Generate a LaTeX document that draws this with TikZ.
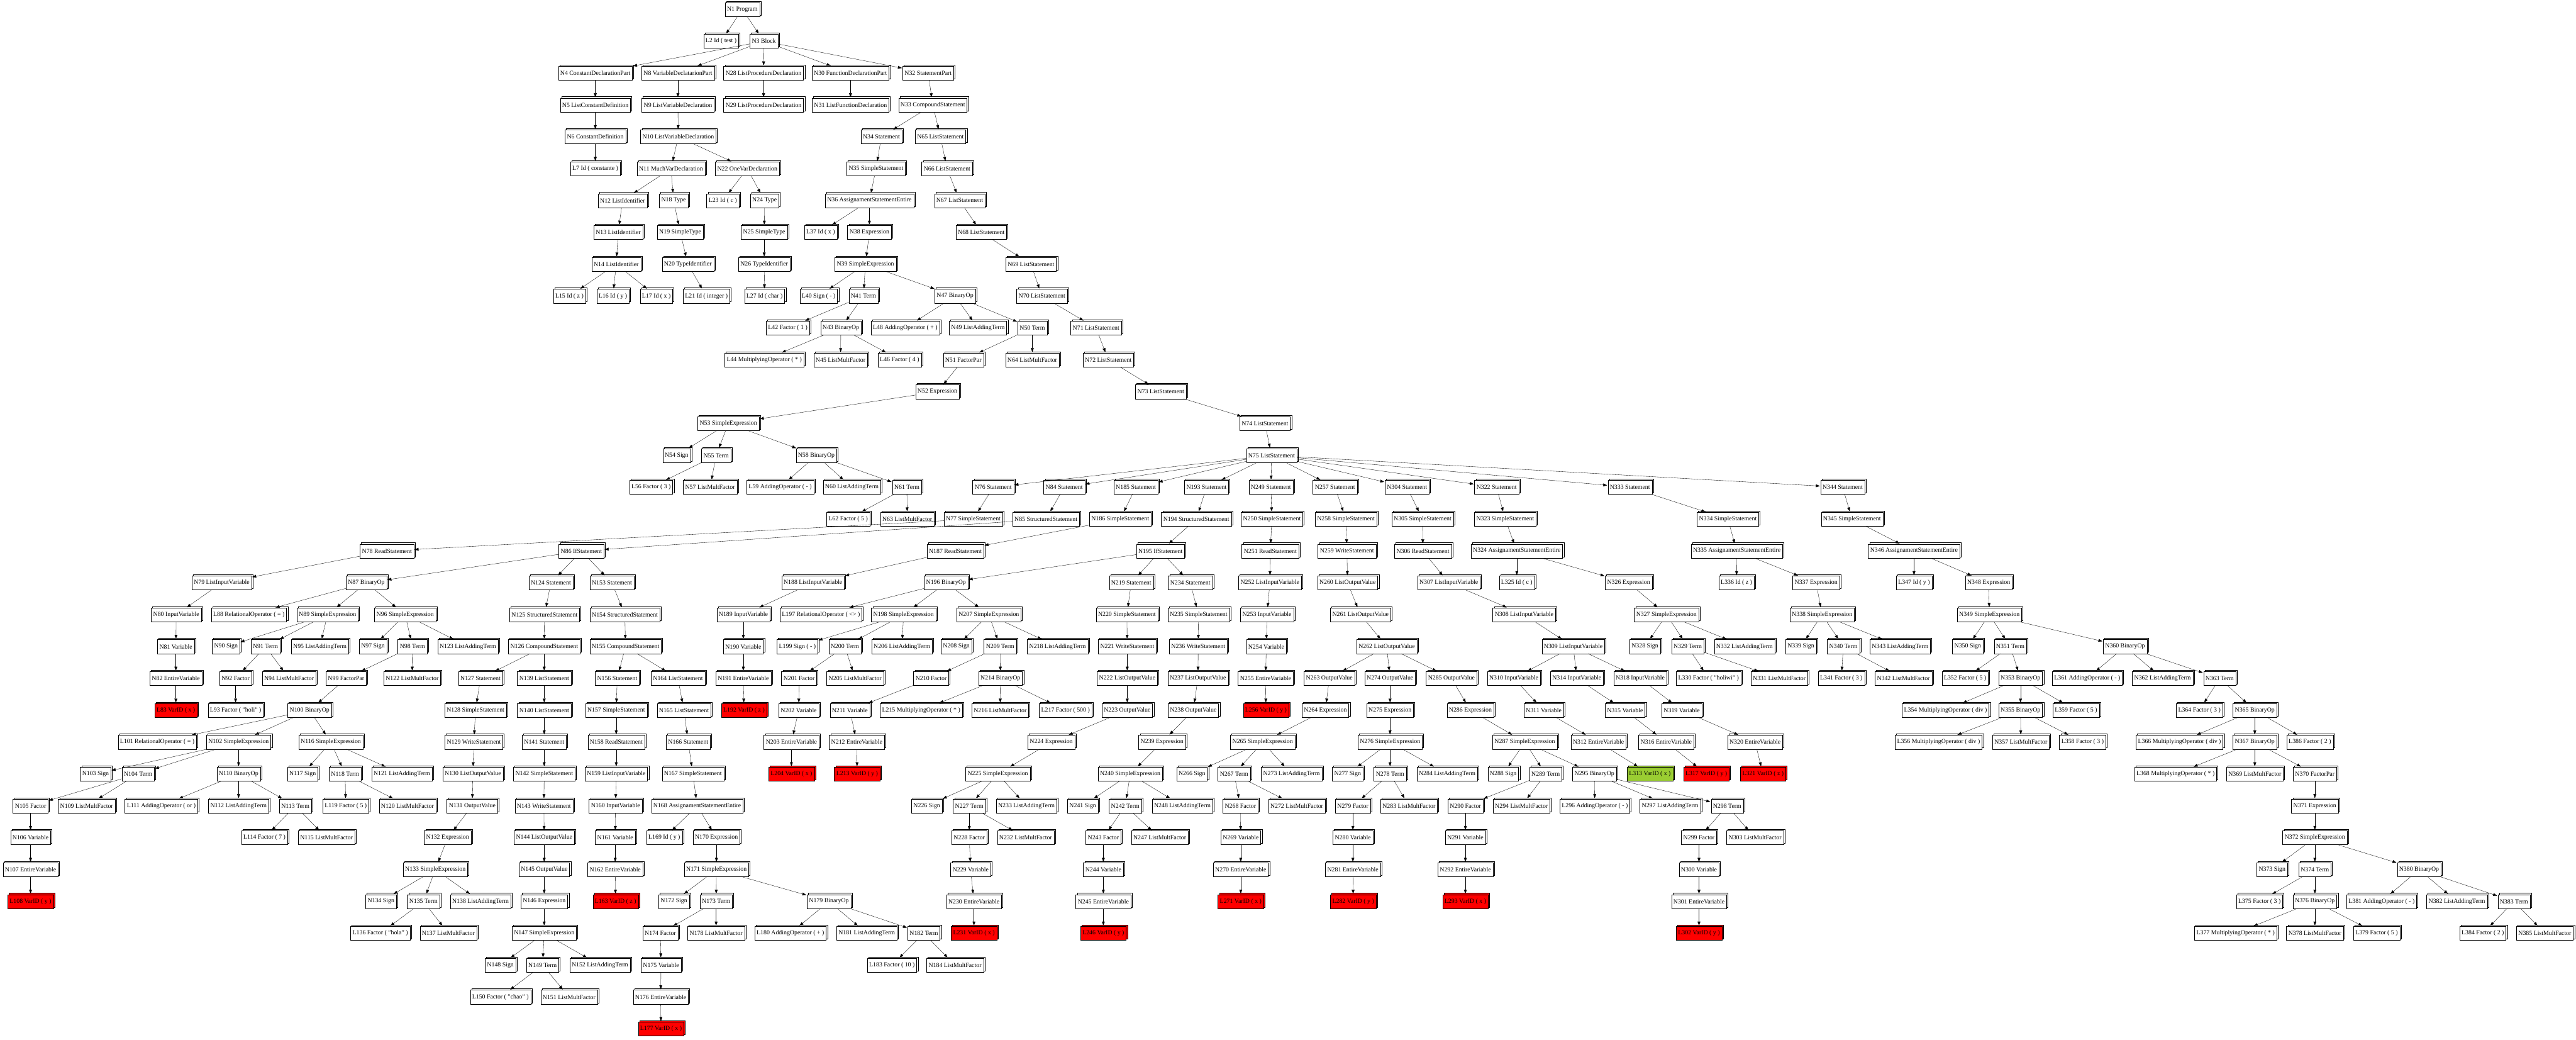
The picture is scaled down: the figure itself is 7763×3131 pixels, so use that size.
\documentclass[tikz,border=0pt]{standalone}
\usepackage{fontspec}
\setmainfont{Liberation Serif}
\usetikzlibrary{arrows.meta,shadows}
\definecolor{lgreen}{HTML}{9ACD32}
\tikzset{
  bx/.style={draw=black, line width=0.45pt, fill=#1, rectangle, minimum height=31.5pt, minimum width=40pt,
    inner xsep=4.5pt, inner ysep=0pt, font=\fontsize{14pt}{16pt}\selectfont,
    copy shadow={shadow xshift=3pt, shadow yshift=3pt, draw=black, fill=#1, line width=0.45pt}},
  bx/.default=white,
  conn/.style={-{Triangle[length=9pt,width=6.5pt]}, line width=0.5pt, shorten >=1.5pt}
}
\newcommand\mkn[5][white]{\node[bx=#1] (#2) at (#3,{28.3+95.97*#4}) {#5};}
\begin{document}
\begin{tikzpicture}[x=0.75pt,y=-0.75pt]
\useasboundingbox (0,0) rectangle (7763,3131);
% level 0-14
\mkn{N1}{2237}{0}{N1 Program}
\mkn{L2}{2173}{1}{L2 Id ( test )}
\mkn{N3}{2302}{1}{N3 Block}
\mkn{N4}{1794}{2}{N4 ConstantDeclarationPart}
\mkn{N8}{2043}{2}{N8 VariableDeclatarionPart}
\mkn{N28}{2301}{2}{N28 ListProcedureDeclaration}
\mkn{N30}{2563}{2}{N30 FunctionDeclarationPart}
\mkn{N32}{2797}{2}{N32 StatementPart}
\mkn{N5}{1794}{3}{N5 ListConstantDefinition}
\mkn{N9}{2043}{3}{N9 ListVariableDeclaration}
\mkn{N29}{2301}{3}{N29 ListProcedureDeclaration}
\mkn{N31}{2563}{3}{N31 ListFunctionDeclaration}
\mkn{N33}{2811}{3}{N33 CompoundStatement}
\mkn{N6}{1794}{4}{N6 ConstantDefinition}
\mkn{N10}{2044}{4}{N10 ListVariableDeclaration}
\mkn{N34}{2656}{4}{N34 Statement}
\mkn{N65}{2834}{4}{N65 ListStatement}
\mkn{L7}{1794}{5}{L7 Id ( constante )}
\mkn{N11}{2022}{5}{N11 MuchVarDeclaration}
\mkn{N22}{2252}{5}{N22 OneVarDeclaration}
\mkn{N35}{2640}{5}{N35 SimpleStatement}
\mkn{N66}{2854}{5}{N66 ListStatement}
\mkn{N12}{1876}{6}{N12 ListIdentifier}
\mkn{N18}{2030}{6}{N18 Type}
\mkn{L23}{2178}{6}{L23 Id ( c )}
\mkn{N24}{2304}{6}{N24 Type}
\mkn{N36}{2620}{6}{N36 AssignamentStatementEntire}
\mkn{N67}{2892}{6}{N67 ListStatement}
\mkn{N13}{1863}{7}{N13 ListIdentifier}
\mkn{N19}{2050}{7}{N19 SimpleType}
\mkn{N25}{2303}{7}{N25 SimpleType}
\mkn{L37}{2473}{7}{L37 Id ( x )}
\mkn{N38}{2620}{7}{N38 Expression}
\mkn{N68}{2957}{7}{N68 ListStatement}
\mkn{N14}{1857}{8}{N14 ListIdentifier}
\mkn{N20}{2073}{8}{N20 TypeIdentifier}
\mkn{N26}{2303}{8}{N26 TypeIdentifier}
\mkn{N39}{2608}{8}{N39 SimpleExpression}
\mkn{N69}{3107}{8}{N69 ListStatement}
\mkn{L15}{1716}{9}{L15 Id ( z )}
\mkn{L16}{1847}{9}{L16 Id ( y )}
\mkn{L17}{1978}{9}{L17 Id ( x )}
\mkn{L21}{2129}{9}{L21 Id ( integer )}
\mkn{L27}{2304}{9}{L27 Id ( char )}
\mkn{L40}{2467}{9}{L40 Sign ( - )}
\mkn{N41}{2602}{9}{N41 Term}
\mkn{N47}{2878}{9}{N47 BinaryOp}
\mkn{N70}{3140}{9}{N70 ListStatement}
\mkn{L42}{2374}{10}{L42 Factor ( 1 )}
\mkn{N43}{2534}{10}{N43 BinaryOp}
\mkn{L48}{2728}{10}{L48 AddingOperator ( + )}
\mkn{N49}{2947}{10}{N49 ListAddingTerm}
\mkn{N50}{3111}{10}{N50 Term}
\mkn{N71}{3303}{10}{N71 ListStatement}
\mkn{L44}{2303}{11}{L44 MultiplyingOperator ( * )}
\mkn{N45}{2533}{11}{N45 ListMultFactor}
\mkn{L46}{2711}{11}{L46 Factor ( 4 )}
\mkn{N51}{2903}{11}{N51 FactorPar}
\mkn{N64}{3111}{11}{N64 ListMultFactor}
\mkn{N72}{3340}{11}{N72 ListStatement}
\mkn{N52}{2825}{12}{N52 Expression}
\mkn{N73}{3498}{12}{N73 ListStatement}
\mkn{N53}{2195}{13}{N53 SimpleExpression}
\mkn{N74}{3812}{13}{N74 ListStatement}
\mkn{N54}{2039}{14}{N54 Sign}
\mkn{N55}{2158}{14}{N55 Term}
\mkn{N58}{2460}{14}{N58 BinaryOp}
\mkn{N75}{3832}{14}{N75 ListStatement}
% level 15
\mkn{L56}{1962}{15}{L56 Factor ( 3 )}
\mkn{N57}{2140}{15}{N57 ListMultFactor}
\mkn{L59}{2351}{15}{L59 AddingOperator ( - )}
\mkn{N60}{2567}{15}{N60 ListAddingTerm}
\mkn{N61}{2733}{15}{N61 Term}
\mkn{N76}{2993}{15}{N76 Statement}
\mkn{N84}{3207}{15}{N84 Statement}
\mkn{N185}{3423}{15}{N185 Statement}
\mkn{N193}{3636}{15}{N193 Statement}
\mkn{N249}{3830}{15}{N249 Statement}
\mkn{N257}{4023}{15}{N257 Statement}
\mkn{N304}{4240}{15}{N304 Statement}
\mkn{N322}{4510}{15}{N322 Statement}
\mkn{N333}{4912}{15}{N333 Statement}
\mkn{N344}{5553}{15}{N344 Statement}
% level 16
\mkn{L62}{2556}{16}{L62 Factor ( 5 )}
\mkn{N63}{2734}{16}{N63 ListMultFactor}
\mkn{N77}{2933}{16}{N77 SimpleStatement}
\mkn{N85}{3152}{16}{N85 StructuredStatement}
\mkn{N186}{3376}{16}{N186 SimpleStatement}
\mkn{N194}{3605}{16}{N194 StructuredStatement}
\mkn{N250}{3833}{16}{N250 SimpleStatement}
\mkn{N258}{4056}{16}{N258 SimpleStatement}
\mkn{N305}{4287}{16}{N305 SimpleStatement}
\mkn{N323}{4536}{16}{N323 SimpleStatement}
\mkn{N334}{5207}{16}{N334 SimpleStatement}
\mkn{N345}{5581}{16}{N345 SimpleStatement}
% level 17
\mkn{N78}{1166}{17}{N78 ReadStatement}
\mkn{N86}{1752}{17}{N86 IfStatement}
\mkn{N187}{2879}{17}{N187 ReadStatement}
\mkn{N195}{3497}{17}{N195 IfStatement}
\mkn{N251}{3828}{17}{N251 ReadStatement}
\mkn{N259}{4059}{17}{N259 WriteStatement}
\mkn{N306}{4288}{17}{N306 ReadStatement}
\mkn{N324}{4571}{17}{N324 AssignamentStatementEntire}
\mkn{N335}{5234}{17}{N335 AssignamentStatementEntire}
\mkn{N346}{5768}{17}{N346 AssignamentStatementEntire}
% level 18
\mkn{N79}{668}{18}{N79 ListInputVariable}
\mkn{N87}{1104}{18}{N87 BinaryOp}
\mkn{N124}{1660}{18}{N124 Statement}
\mkn{N153}{1844}{18}{N153 Statement}
\mkn{N188}{2450}{18}{N188 ListInputVariable}
\mkn{N196}{2851}{18}{N196 BinaryOp}
\mkn{N219}{3409}{18}{N219 Statement}
\mkn{N234}{3587}{18}{N234 Statement}
\mkn{N252}{3827}{18}{N252 ListInputVariable}
\mkn{N260}{4061}{18}{N260 ListOutputValue}
\mkn{N307}{4366}{18}{N307 ListInputVariable}
\mkn{L325}{4571}{18}{L325 Id ( c )}
\mkn{N326}{4908}{18}{N326 Expression}
\mkn{L336}{5233}{18}{L336 Id ( z )}
\mkn{N337}{5473}{18}{N337 Expression}
\mkn{L347}{5768}{18}{L347 Id ( y )}
\mkn{N348}{5993}{18}{N348 Expression}
% level 19
\mkn{N80}{531}{19}{N80 InputVariable}
\mkn{L88}{750}{19}{L88 RelationalOperator ( = )}
\mkn{N89}{987}{19}{N89 SimpleExpression}
\mkn{N96}{1221}{19}{N96 SimpleExpression}
\mkn{N125}{1641}{19}{N125 StructuredStatement}
\mkn{N154}{1883}{19}{N154 StructuredStatement}
\mkn{N189}{2240}{19}{N189 InputVariable}
\mkn{L197}{2474}{19}{L197 RelationalOperator ( <> )}
\mkn{N198}{2723}{19}{N198 SimpleExpression}
\mkn{N207}{2980}{19}{N207 SimpleExpression}
\mkn{N220}{3396}{19}{N220 SimpleStatement}
\mkn{N235}{3612}{19}{N235 SimpleStatement}
\mkn{N253}{3818}{19}{N253 InputVariable}
\mkn{N261}{4100}{19}{N261 ListOutputValue}
\mkn{N308}{4593}{19}{N308 ListInputVariable}
\mkn{N327}{5022}{19}{N327 SimpleExpression}
\mkn{N338}{5491}{19}{N338 SimpleExpression}
\mkn{N349}{5995}{19}{N349 SimpleExpression}
% level 20
\mkn{N81}{530}{20}{N81 Variable}
\mkn{N90}{681}{20}{N90 Sign}
\mkn{N91}{800}{20}{N91 Term}
\mkn{N95}{964}{20}{N95 ListAddingTerm}
\mkn{N97}{1124}{20}{N97 Sign}
\mkn{N98}{1243}{20}{N98 Term}
\mkn{N123}{1410}{20}{N123 ListAddingTerm}
\mkn{N126}{1640}{20}{N126 CompoundStatement}
\mkn{N155}{1885}{20}{N155 CompoundStatement}
\mkn{N190}{2240}{20}{N190 Variable}
\mkn{L199}{2403}{20}{L199 Sign ( - )}
\mkn{N200}{2546}{20}{N200 Term}
\mkn{N206}{2718}{20}{N206 ListAddingTerm}
\mkn{N208}{2882}{20}{N208 Sign}
\mkn{N209}{3014}{20}{N209 Term}
\mkn{N218}{3187}{20}{N218 ListAddingTerm}
\mkn{N221}{3397}{20}{N221 WriteStatement}
\mkn{N236}{3611}{20}{N236 WriteStatement}
\mkn{N254}{3816}{20}{N254 Variable}
\mkn{N262}{4179}{20}{N262 ListOutputValue}
\mkn{N309}{4741}{20}{N309 ListInputVariable}
\mkn{N328}{4957}{20}{N328 Sign}
\mkn{N329}{5086}{20}{N329 Term}
\mkn{N332}{5257}{20}{N332 ListAddingTerm}
\mkn{N339}{5427}{20}{N339 Sign}
\mkn{N340}{5555}{20}{N340 Term}
\mkn{N343}{5726}{20}{N343 ListAddingTerm}
\mkn{N350}{5930}{20}{N350 Sign}
\mkn{N351}{6058}{20}{N351 Term}
\mkn{N360}{6404}{20}{N360 BinaryOp}
% level 21
\mkn{N82}{530}{21}{N82 EntireVariable}
\mkn{N92}{710}{21}{N92 Factor}
\mkn{N94}{871}{21}{N94 ListMultFactor}
\mkn{N99}{1043}{21}{N99 FactorPar}
\mkn{N122}{1242}{21}{N122 ListMultFactor}
\mkn{N127}{1448}{21}{N127 Statement}
\mkn{N139}{1640}{21}{N139 ListStatement}
\mkn{N156}{1860}{21}{N156 Statement}
\mkn{N164}{2043}{21}{N164 ListStatement}
\mkn{N191}{2240}{21}{N191 EntireVariable}
\mkn{N201}{2408}{21}{N201 Factor}
\mkn{N205}{2577}{21}{N205 ListMultFactor}
\mkn{N210}{2806}{21}{N210 Factor}
\mkn{N214}{3015}{21}{N214 BinaryOp}
\mkn{N222}{3397}{21}{N222 ListOutputValue}
\mkn{N237}{3610}{21}{N237 ListOutputValue}
\mkn{N255}{3814}{21}{N255 EntireVariable}
\mkn{N263}{4006}{21}{N263 OutputValue}
\mkn{N274}{4189}{21}{N274 OutputValue}
\mkn{N285}{4374}{21}{N285 OutputValue}
\mkn{N310}{4562}{21}{N310 InputVariable}
\mkn{N314}{4752}{21}{N314 InputVariable}
\mkn{N318}{4943}{21}{N318 InputVariable}
\mkn{L330}{5149}{21}{L330 Factor ( "holiwi" )}
\mkn{N331}{5362}{21}{N331 ListMultFactor}
\mkn{L341}{5549}{21}{L341 Factor ( 3 )}
\mkn{N342}{5736}{21}{N342 ListMultFactor}
\mkn{L352}{5922}{21}{L352 Factor ( 5 )}
\mkn{N353}{6089}{21}{N353 BinaryOp}
\mkn{L361}{6290}{21}{L361 AddingOperator ( - )}
\mkn{N362}{6517}{21}{N362 ListAddingTerm}
\mkn{N363}{6689}{21}{N363 Term}
% level 22
\mkn[red]{L83}{530}{22}{L83 VarID ( x )}
\mkn{L93}{710}{22}{L93 Factor ( "holi" )}
\mkn{N100}{933}{22}{N100 BinaryOp}
\mkn{N128}{1433}{22}{N128 SimpleStatement}
\mkn{N140}{1640}{22}{N140 ListStatement}
\mkn{N157}{1857}{22}{N157 SimpleStatement}
\mkn{N165}{2061}{22}{N165 ListStatement}
\mkn[red]{L192}{2242}{22}{L192 VarID ( z )}
\mkn{N202}{2407}{22}{N202 Variable}
\mkn{N211}{2561}{22}{N211 Variable}
\mkn{L215}{2776}{22}{L215 MultiplyingOperator ( * )}
\mkn{N216}{3014}{22}{N216 ListMultFactor}
\mkn{L217}{3211}{22}{L217 Factor ( 500 )}
\mkn{N223}{3397}{22}{N223 OutputValue}
\mkn{N238}{3596}{22}{N238 OutputValue}
\mkn[red]{L256}{3815}{22}{L256 VarID ( y )}
\mkn{N264}{3994}{22}{N264 Expression}
\mkn{N275}{4189}{22}{N275 Expression}
\mkn{N286}{4431}{22}{N286 Expression}
\mkn{N311}{4652}{22}{N311 Variable}
\mkn{N315}{4897}{22}{N315 Variable}
\mkn{N319}{5068}{22}{N319 Variable}
\mkn{L354}{5863}{22}{L354 MultiplyingOperator ( div )}
\mkn{N355}{6089}{22}{N355 BinaryOp}
\mkn{L359}{6256}{22}{L359 Factor ( 5 )}
\mkn{L364}{6628}{22}{L364 Factor ( 3 )}
\mkn{N365}{6795}{22}{N365 BinaryOp}
% level 23
\mkn{L101}{474}{23}{L101 RelationalOperator ( = )}
\mkn{N102}{719}{23}{N102 SimpleExpression}
\mkn{N116}{997}{23}{N116 SimpleExpression}
\mkn{N129}{1428}{23}{N129 WriteStatement}
\mkn{N141}{1640}{23}{N141 Statement}
\mkn{N158}{1857}{23}{N158 ReadStatement}
\mkn{N166}{2074}{23}{N166 Statement}
\mkn{N203}{2385}{23}{N203 EntireVariable}
\mkn{N212}{2582}{23}{N212 EntireVariable}
\mkn{N224}{3168}{23}{N224 Expression}
\mkn{N239}{3502}{23}{N239 Expression}
\mkn{N265}{3805}{23}{N265 SimpleExpression}
\mkn{N276}{4189}{23}{N276 SimpleExpression}
\mkn{N287}{4595}{23}{N287 SimpleExpression}
\mkn{N312}{4817}{23}{N312 EntireVariable}
\mkn{N316}{5021}{23}{N316 EntireVariable}
\mkn{N320}{5289}{23}{N320 EntireVariable}
\mkn{L356}{5842}{23}{L356 MultiplyingOperator ( div )}
\mkn{N357}{6090}{23}{N357 ListMultFactor}
\mkn{L358}{6276}{23}{L358 Factor ( 3 )}
\mkn{L366}{6568}{23}{L366 MultiplyingOperator ( div )}
\mkn{N367}{6795}{23}{N367 BinaryOp}
\mkn{L386}{6961}{23}{L386 Factor ( 2 )}
% level 24
\mkn{N103}{288}{24}{N103 Sign}
\mkn{N104}{416}{24}{N104 Term}
\mkn{N110}{719}{24}{N110 BinaryOp}
\mkn{N117}{912}{24}{N117 Sign}
\mkn{N118}{1040}{24}{N118 Term}
\mkn{N121}{1211}{24}{N121 ListAddingTerm}
\mkn{N130}{1425}{24}{N130 ListOutputValue}
\mkn{N142}{1640}{24}{N142 SimpleStatement}
\mkn{N159}{1857}{24}{N159 ListInputVariable}
\mkn{N167}{2088}{24}{N167 SimpleStatement}
\mkn[red]{L204}{2385}{24}{L204 VarID ( x )}
\mkn[red]{L213}{2583}{24}{L213 VarID ( y )}
\mkn{N225}{3007}{24}{N225 SimpleExpression}
\mkn{N240}{3406}{24}{N240 SimpleExpression}
\mkn{N266}{3592}{24}{N266 Sign}
\mkn{N267}{3719}{24}{N267 Term}
\mkn{N273}{3892}{24}{N273 ListAddingTerm}
\mkn{N277}{4061}{24}{N277 Sign}
\mkn{N278}{4189}{24}{N278 Term}
\mkn{N284}{4361}{24}{N284 ListAddingTerm}
\mkn{N288}{4530}{24}{N288 Sign}
\mkn{N289}{4658}{24}{N289 Term}
\mkn{N295}{4805}{24}{N295 BinaryOp}
\mkn[lgreen]{L313}{4972}{24}{L313 VarID ( x )}
\mkn[red]{L317}{5142}{24}{L317 VarID ( y )}
\mkn[red]{L321}{5313}{24}{L321 VarID ( z )}
\mkn{L368}{6556}{24}{L368 MultiplyingOperator ( * )}
\mkn{N369}{6795}{24}{N369 ListMultFactor}
\mkn{N370}{6976}{24}{N370 FactorPar}
% level 25
\mkn{N105}{92}{25}{N105 Factor}
\mkn{N109}{261}{25}{N109 ListMultFactor}
\mkn{L111}{486}{25}{L111 AddingOperator ( or )}
\mkn{N112}{719}{25}{N112 ListAddingTerm}
\mkn{N113}{890}{25}{N113 Term}
\mkn{L119}{1042}{25}{L119 Factor ( 5 )}
\mkn{N120}{1228}{25}{N120 ListMultFactor}
\mkn{N131}{1423}{25}{N131 OutputValue}
\mkn{N143}{1639}{25}{N143 WriteStatement}
\mkn{N160}{1855}{25}{N160 InputVariable}
\mkn{N168}{2101}{25}{N168 AssignamentStatementEntire}
\mkn{N226}{2793}{25}{N226 Sign}
\mkn{N227}{2921}{25}{N227 Term}
\mkn{N233}{3093}{25}{N233 ListAddingTerm}
\mkn{N241}{3263}{25}{N241 Sign}
\mkn{N242}{3391}{25}{N242 Term}
\mkn{N248}{3563}{25}{N248 ListAddingTerm}
\mkn{N268}{3738}{25}{N268 Factor}
\mkn{N272}{3908}{25}{N272 ListMultFactor}
\mkn{N279}{4077}{25}{N279 Factor}
\mkn{N283}{4246}{25}{N283 ListMultFactor}
\mkn{N290}{4416}{25}{N290 Factor}
\mkn{N294}{4585}{25}{N294 ListMultFactor}
\mkn{L296}{4806}{25}{L296 AddingOperator ( - )}
\mkn{N297}{5033}{25}{N297 ListAddingTerm}
\mkn{N298}{5205}{25}{N298 Term}
\mkn{N371}{6976}{25}{N371 Expression}
% level 26
\mkn{N106}{92}{26}{N106 Variable}
\mkn{L114}{797}{26}{L114 Factor ( 7 )}
\mkn{N115}{984}{26}{N115 ListMultFactor}
\mkn{N132}{1349}{26}{N132 Expression}
\mkn{N144}{1640}{26}{N144 ListOutputValue}
\mkn{N161}{1854}{26}{N161 Variable}
\mkn{L169}{2002}{26}{L169 Id ( y )}
\mkn{N170}{2159}{26}{N170 Expression}
\mkn{N228}{2921}{26}{N228 Factor}
\mkn{N232}{3091}{26}{N232 ListMultFactor}
\mkn{N243}{3325}{26}{N243 Factor}
\mkn{N247}{3495}{26}{N247 ListMultFactor}
\mkn{N269}{3739}{26}{N269 Variable}
\mkn{N280}{4077}{26}{N280 Variable}
\mkn{N291}{4416}{26}{N291 Variable}
\mkn{N299}{5120}{26}{N299 Factor}
\mkn{N303}{5289}{26}{N303 ListMultFactor}
\mkn{N372}{6976}{26}{N372 SimpleExpression}
% level 27
\mkn{N107}{92}{27}{N107 EntireVariable}
\mkn{N133}{1312}{27}{N133 SimpleExpression}
\mkn{N145}{1640}{27}{N145 OutputValue}
\mkn{N162}{1854}{27}{N162 EntireVariable}
\mkn{N171}{2159}{27}{N171 SimpleExpression}
\mkn{N229}{2925}{27}{N229 Variable}
\mkn{N244}{3325}{27}{N244 Variable}
\mkn{N270}{3739}{27}{N270 EntireVariable}
\mkn{N281}{4077}{27}{N281 EntireVariable}
\mkn{N292}{4416}{27}{N292 EntireVariable}
\mkn{N300}{5120}{27}{N300 Variable}
\mkn{N373}{6847}{27}{N373 Sign}
\mkn{N374}{6976}{27}{N374 Term}
\mkn{N380}{7290}{27}{N380 BinaryOp}
% level 28
\mkn[red]{L108}{92}{28}{L108 VarID ( y )}
\mkn{N134}{1148}{28}{N134 Sign}
\mkn{N135}{1276}{28}{N135 Term}
\mkn{N138}{1448}{28}{N138 ListAddingTerm}
\mkn{N146}{1640}{28}{N146 Expression}
\mkn[red]{L163}{1855}{28}{L163 VarID ( z )}
\mkn{N172}{2031}{28}{N172 Sign}
\mkn{N173}{2158}{28}{N173 Term}
\mkn{N179}{2498}{28}{N179 BinaryOp}
\mkn{N230}{2935}{28}{N230 EntireVariable}
\mkn{N245}{3325}{28}{N245 EntireVariable}
\mkn[red]{L271}{3739}{28}{L271 VarID ( x )}
\mkn[red]{L282}{4078}{28}{L282 VarID ( y )}
\mkn[red]{L293}{4416}{28}{L293 VarID ( x )}
\mkn{N301}{5120}{28}{N301 EntireVariable}
\mkn{L375}{6809}{28}{L375 Factor ( 3 )}
\mkn{N376}{6976}{28}{N376 BinaryOp}
\mkn{L381}{7177}{28}{L381 AddingOperator ( - )}
\mkn{N382}{7404}{28}{N382 ListAddingTerm}
\mkn{N383}{7576}{28}{N383 Term}
% level 29
\mkn{L136}{1146}{29}{L136 Factor ( "hola" )}
\mkn{N137}{1351}{29}{N137 ListMultFactor}
\mkn{N147}{1640}{29}{N147 SimpleExpression}
\mkn{N174}{1990}{29}{N174 Factor}
\mkn{N178}{2158}{29}{N178 ListMultFactor}
\mkn{L180}{2382}{29}{L180 AddingOperator ( + )}
\mkn{N181}{2612}{29}{N181 ListAddingTerm}
\mkn{N182}{2784}{29}{N182 Term}
\mkn[red]{L231}{2935}{29}{L231 VarID ( x )}
\mkn[red]{L246}{3325}{29}{L246 VarID ( y )}
\mkn[red]{L302}{5120}{29}{L302 VarID ( y )}
\mkn{L377}{6737}{29}{L377 MultiplyingOperator ( * )}
\mkn{N378}{6976}{29}{N378 ListMultFactor}
\mkn{L379}{7162}{29}{L379 Factor ( 5 )}
\mkn{L384}{7482}{29}{L384 Factor ( 2 )}
\mkn{N385}{7669}{29}{N385 ListMultFactor}
% level 30-32
\mkn{N148}{1508}{30}{N148 Sign}
\mkn{N149}{1635}{30}{N149 Term}
\mkn{N152}{1808}{30}{N152 ListAddingTerm}
\mkn{N175}{1992}{30}{N175 Variable}
\mkn{L183}{2688}{30}{L183 Factor ( 10 )}
\mkn{N184}{2878}{30}{N184 ListMultFactor}
\mkn{L150}{1508}{31}{L150 Factor ( "chao" )}
\mkn{N151}{1715}{31}{N151 ListMultFactor}
\mkn{N176}{1991}{31}{N176 EntireVariable}
\mkn[red]{L177}{1992}{32}{L177 VarID ( x )}
% edges
\foreach \a/\b in {N1/L2, N1/N3, N3/N4, N3/N8, N3/N28, N3/N30, N3/N32,
N4/N5, N5/N6, N6/L7, N8/N9, N9/N10, N10/N11, N10/N22,
N11/N12, N11/N18, N12/N13, N13/N14, N14/L15, N14/L16, N14/L17,
N18/N19, N19/N20, N20/L21, N22/L23, N22/N24, N24/N25, N25/N26, N26/L27,
N28/N29, N30/N31, N32/N33, N33/N34, N33/N65,
N34/N35, N35/N36, N36/L37, N36/N38, N38/N39, N39/L40, N39/N41, N39/N47,
N41/L42, N41/N43, N43/L44, N43/N45, N43/L46,
N47/L48, N47/N49, N47/N50, N50/N51, N50/N64, N51/N52, N52/N53,
N53/N54, N53/N55, N53/N58, N55/L56, N55/N57, N58/L59, N58/N60, N58/N61, N61/L62, N61/N63,
N65/N66, N66/N67, N67/N68, N68/N69, N69/N70, N70/N71, N71/N72, N72/N73, N73/N74, N74/N75,
N75/N76, N75/N84, N75/N185, N75/N193, N75/N249, N75/N257, N75/N304, N75/N322, N75/N333, N75/N344,
N76/N77, N77/N78, N78/N79, N79/N80, N80/N81, N81/N82, N82/L83,
N84/N85, N85/N86, N86/N87, N86/N124, N86/N153,
N87/L88, N87/N89, N87/N96,
N89/N90, N89/N91, N89/N95, N91/N92, N91/N94, N92/L93,
N96/N97, N96/N98, N96/N123, N98/N99, N98/N122, N99/N100,
N100/L101, N100/N102, N100/N116,
N102/N103, N102/N104, N102/N110, N104/N105, N104/N109, N105/N106, N106/N107, N107/L108,
N110/L111, N110/N112, N110/N113, N113/L114, N113/N115,
N116/N117, N116/N118, N116/N121, N118/L119, N118/N120,
N124/N125, N125/N126, N126/N127, N126/N139,
N127/N128, N128/N129, N129/N130, N130/N131, N131/N132, N132/N133, N133/N134, N133/N135, N133/N138, N135/L136, N135/N137,
N139/N140, N140/N141, N141/N142, N142/N143, N143/N144, N144/N145, N145/N146, N146/N147, N147/N148, N147/N149, N147/N152, N149/L150, N149/N151,
N153/N154, N154/N155, N155/N156, N155/N164,
N156/N157, N157/N158, N158/N159, N159/N160, N160/N161, N161/N162, N162/L163,
N164/N165, N165/N166, N166/N167, N167/N168, N168/L169, N168/N170, N170/N171, N171/N172, N171/N173, N171/N179,
N173/N174, N173/N178, N174/N175, N175/N176, N176/L177,
N179/L180, N179/N181, N179/N182, N182/L183, N182/N184,
N185/N186, N186/N187, N187/N188, N188/N189, N189/N190, N190/N191, N191/L192,
N193/N194, N194/N195, N195/N196, N195/N219, N195/N234,
N196/L197, N196/N198, N196/N207,
N198/L199, N198/N200, N198/N206, N200/N201, N200/N205, N201/N202, N202/N203, N203/L204,
N207/N208, N207/N209, N207/N218, N209/N210, N209/N214, N210/N211, N211/N212, N212/L213,
N214/L215, N214/N216, N214/L217,
N219/N220, N220/N221, N221/N222, N222/N223, N223/N224, N224/N225, N225/N226, N225/N227, N225/N233, N227/N228, N227/N232, N228/N229, N229/N230, N230/L231,
N234/N235, N235/N236, N236/N237, N237/N238, N238/N239, N239/N240, N240/N241, N240/N242, N240/N248, N242/N243, N242/N247, N243/N244, N244/N245, N245/L246,
N249/N250, N250/N251, N251/N252, N252/N253, N253/N254, N254/N255, N255/L256,
N257/N258, N258/N259, N259/N260, N260/N261, N261/N262, N262/N263, N262/N274, N262/N285,
N263/N264, N264/N265, N265/N266, N265/N267, N265/N273, N267/N268, N267/N272, N268/N269, N269/N270, N270/L271,
N274/N275, N275/N276, N276/N277, N276/N278, N276/N284, N278/N279, N278/N283, N279/N280, N280/N281, N281/L282,
N285/N286, N286/N287, N287/N288, N287/N289, N287/N295, N289/N290, N289/N294, N290/N291, N291/N292, N292/L293,
N295/L296, N295/N297, N295/N298, N298/N299, N298/N303, N299/N300, N300/N301, N301/L302,
N304/N305, N305/N306, N306/N307, N307/N308, N308/N309, N309/N310, N309/N314, N309/N318,
N310/N311, N311/N312, N312/L313, N314/N315, N315/N316, N316/L317, N318/N319, N319/N320, N320/L321,
N322/N323, N323/N324, N324/L325, N324/N326, N326/N327, N327/N328, N327/N329, N327/N332, N329/L330, N329/N331,
N333/N334, N334/N335, N335/L336, N335/N337, N337/N338, N338/N339, N338/N340, N338/N343, N340/L341, N340/N342,
N344/N345, N345/N346, N346/L347, N346/N348, N348/N349, N349/N350, N349/N351, N349/N360,
N351/L352, N351/N353, N353/L354, N353/N355, N353/L359, N355/L356, N355/N357, N355/L358,
N360/L361, N360/N362, N360/N363, N363/L364, N363/N365, N365/L366, N365/N367, N365/L386,
N367/L368, N367/N369, N367/N370, N370/N371, N371/N372, N372/N373, N372/N374, N372/N380,
N374/L375, N374/N376, N376/L377, N376/N378, N376/L379, N380/L381, N380/N382, N380/N383, N383/L384, N383/N385}
  \draw[conn] (\a) -- (\b);
\end{tikzpicture}
\end{document}
